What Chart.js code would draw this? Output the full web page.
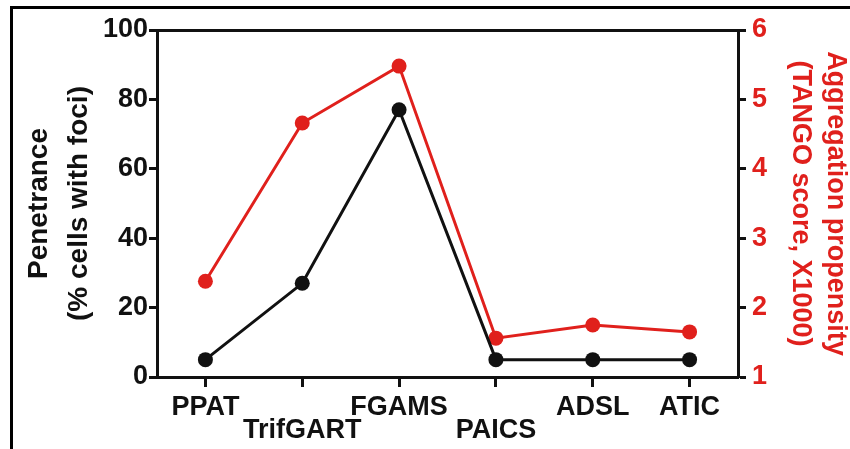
<!DOCTYPE html>
<html lang="en">
<head>
<meta charset="UTF-8">
<title>Penetrance and aggregation propensity</title>
<script src="https://cdn.jsdelivr.net/npm/chart.js"></script>
<style>
    html, body {
        margin: 0;
        padding: 0;
        background: #fff;
        overflow: hidden;
    }
    #wrap {
        position: relative;
        width: 850px;
        height: 449px;
    }
    #frame {
        position: absolute;
        left: 10px;
        top: 6px;
        width: 900px;
        height: 500px;
        border-top: 3px solid #000;
        border-left: 3px solid #000;
        pointer-events: none;
    }
</style>
</head>
<body>
<div id="wrap">
    <canvas id="myChart" width="850" height="449"></canvas>
    <div id="frame"></div>
</div>

<script>
// data
var categories = ['PPAT', 'TrifGART', 'FGAMS', 'PAICS', 'ADSL', 'ATIC'];
var penetrance = [5, 27, 77, 5, 5, 5];
var tangoScore = [2.38, 4.66, 5.48, 1.56, 1.75, 1.65];
var lowerRowLabels = ['TrifGART', 'PAICS'];

var leftTicks = [0, 20, 40, 60, 80, 100];
var rightTicks = [1, 2, 3, 4, 5, 6];

var RED = '#e0201c';
var BLACK = '#111111';
var FONT = 'Arial, "Liberation Sans", sans-serif';

var graphData = {
    labels: categories,
    datasets: [{
        label: 'Penetrance',
        data: penetrance,
        yAxisID: 'y',
        borderColor: BLACK,
        backgroundColor: BLACK,
        borderWidth: 3,
        pointRadius: 7.5,
        pointBorderWidth: 0,
        tension: 0,
        clip: false
    }, {
        label: 'Aggregation propensity',
        data: tangoScore,
        yAxisID: 'y1',
        borderColor: RED,
        backgroundColor: RED,
        borderWidth: 3,
        pointRadius: 7.5,
        pointBorderWidth: 0,
        tension: 0,
        clip: false
    }]
};

var tickFont = { family: FONT, size: 27, weight: 'bold', lineHeight: 0.85 };

var graphOptions = {
    responsive: false,
    animation: false,
    layout: { padding: { top: 30, left: 0, right: 0, bottom: 0 } },
    plugins: {
        legend: { display: false },
        tooltip: { enabled: false }
    },
    scales: {
        x: {
            type: 'category',
            position: 'bottom',
            offset: true,
            grid: { drawOnChartArea: false, drawTicks: true, tickLength: 10, tickWidth: 3, tickColor: BLACK, offset: false },
            border: { display: true, color: BLACK, width: 3 },
            ticks: {
                color: BLACK,
                font: tickFont,
                padding: 9,
                maxRotation: 0,
                autoSkip: false,
                callback: function (value, index) {
                    var name = categories[index];
                    return lowerRowLabels.indexOf(name) >= 0 ? ['', name] : name;
                }
            },
            afterFit: function (scale) { scale.height = 72; }
        },
        x2: {
            type: 'category',
            position: 'top',
            offset: true,
            grid: { display: false, drawOnChartArea: false, drawTicks: false },
            border: { display: true, color: BLACK, width: 3 },
            ticks: { display: false },
            afterFit: function (scale) { scale.height = 0; }
        },
        y: {
            position: 'left',
            min: 0,
            max: 100,
            afterBuildTicks: function (scale) {
                scale.ticks = leftTicks.map(function (v) { return { value: v }; });
            },
            grid: { drawOnChartArea: false, drawTicks: true, tickLength: 8, tickWidth: 3, tickColor: BLACK },
            border: { display: true, color: BLACK, width: 3 },
            ticks: {
                color: BLACK,
                font: { family: FONT, size: 27, weight: 'bold' },
                padding: 1
            },
            title: {
                display: true,
                text: ['Penetrance', '(% cells with foci)'],
                color: BLACK,
                font: { family: FONT, size: 28, weight: 'bold', lineHeight: 1.4 },
                padding: { top: 20, bottom: 0 }
            },
            afterFit: function (scale) { scale.width = 157; }
        },
        y1: {
            position: 'right',
            min: 1,
            max: 6,
            afterBuildTicks: function (scale) {
                scale.ticks = rightTicks.map(function (v) { return { value: v }; });
            },
            grid: { drawOnChartArea: false, drawTicks: true, tickLength: 8, tickWidth: 3, tickColor: BLACK },
            border: { display: true, color: BLACK, width: 3 },
            ticks: {
                color: RED,
                font: { family: FONT, size: 27, weight: 'bold' },
                padding: 6
            },
            title: {
                display: true,
                text: ['Aggregation propensity', '(TANGO score, X1000)'],
                color: RED,
                font: { family: FONT, size: 27, weight: 'bold', lineHeight: 1.3 },
                padding: { top: -3, bottom: 0 }
            },
            afterFit: function (scale) { scale.width = 112; }
        }
    }
};

var ctx = document.getElementById('myChart').getContext('2d');
var myChart = new Chart(ctx, {
    type: 'line',
    data: graphData,
    options: graphOptions
});
</script>
</body>
</html>
